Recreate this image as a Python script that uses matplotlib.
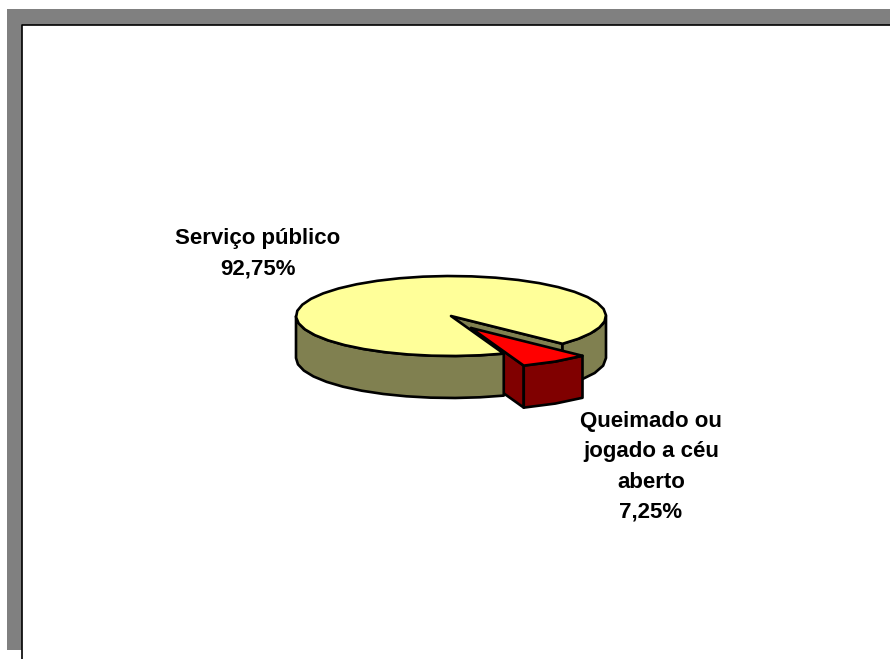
import numpy as np
import matplotlib
matplotlib.use('Agg')
import matplotlib.pyplot as plt
from matplotlib.patches import Polygon, Rectangle

# destino do lixo
categories = ['Serviço público', 'Queimado ou\njogado a céu\naberto']
shares = [92.75, 7.25]
slice_colors = ['#ffff99', '#ff0000']
wall_colors = ['#808050', '#800000']

# pie geometry, in pixels
cx, cy = 451, 316
rx, ry = 155, 40
depth = 42
start_angle = 44
explode = (20, 12)
edge = 1.9

def arc(t0, t1, ox=0, oy=0, step=9):
    n = max(int(abs(t1 - t0) / step), 2) + 1
    t = np.radians(np.linspace(t0, t1, n))
    return np.column_stack([cx + ox + rx * np.cos(t), cy + oy + ry * np.sin(t)])

def wall(t0, t1, ox=0, oy=0):
    top = arc(t0, t1, ox, oy)
    bottom = top[::-1] + [0, depth]
    return np.vstack([top, bottom])

def draw_poly(ax, pts, color):
    ax.add_patch(Polygon(pts, closed=True, facecolor=color, edgecolor='black',
                         linewidth=edge, joinstyle='round'))

fig = plt.figure(figsize=(8.9, 6.59), dpi=100)
ax = fig.add_axes([0, 0, 1, 1])
ax.set_xlim(0, 890)
ax.set_ylim(659, 0)
ax.axis('off')

# page frame with its grey shadow
ax.add_patch(Rectangle((7, 9), 883, 16, facecolor='#808080', edgecolor='none'))
ax.add_patch(Rectangle((7, 9), 15, 641, facecolor='#808080', edgecolor='none'))
ax.plot([22, 22, 890], [659, 25, 25], color='black', linewidth=1.2)

sweep = 360 * shares[1] / sum(shares)
end_angle = start_angle + sweep
ox, oy = explode
apex_main = np.array([cx, cy])
apex_out = np.array([cx + ox, cy + oy])

# cut face of the big slice, seen through the gap
p = arc(start_angle, start_angle)[0]
draw_poly(ax, [apex_main, p, p + [0, depth], apex_main + [0, depth]], wall_colors[0])

# inner face of the pulled out slice, partly hidden by the big slice
p = arc(end_angle, end_angle, ox, oy)[0]
draw_poly(ax, [apex_out, p, p + [0, depth], apex_out + [0, depth]], wall_colors[1])

# big slice: outer wall, top
draw_poly(ax, wall(end_angle, 180), wall_colors[0])
draw_poly(ax, wall(0, start_angle), wall_colors[0])
draw_poly(ax, np.vstack([apex_main, arc(end_angle, start_angle + 360)]), slice_colors[0])

# small slice: outer wall, top
draw_poly(ax, wall(start_angle, end_angle, ox, oy), wall_colors[1])
draw_poly(ax, np.vstack([apex_out, arc(start_angle, end_angle, ox, oy)]), slice_colors[1])

label_pos = [(258, 254), (651, 467)]
for name, val, pos in zip(categories, shares, label_pos):
    txt = name + '\n' + ('%.2f%%' % val).replace('.', ',')
    ax.text(pos[0], pos[1], txt, ha='center', va='center', multialignment='center',
            family='Liberation Sans', fontweight='bold', fontsize=16, linespacing=1.57)

plt.savefig('out.png', dpi=100)
